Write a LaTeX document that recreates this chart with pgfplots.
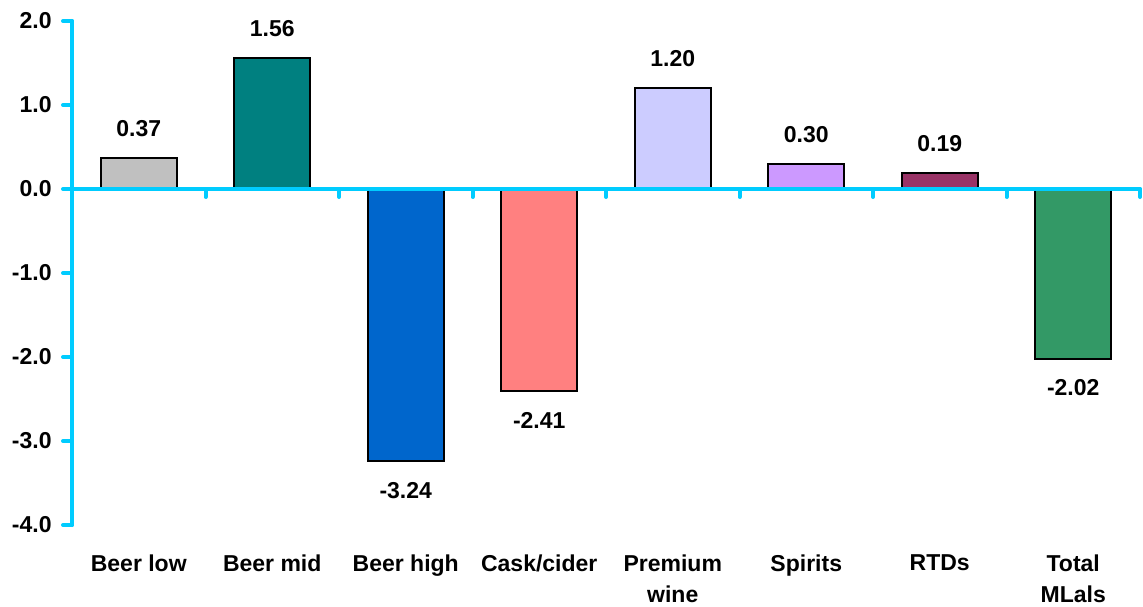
\documentclass[border=0pt]{standalone}
\usepackage{pgfplots}
\pgfplotsset{compat=1.18}
\usepackage{fontspec}
\setmainfont{Liberation Sans}
\definecolor{axcyan}{HTML}{00CCFF}
\definecolor{cA}{HTML}{C0C0C0}
\definecolor{cB}{HTML}{008080}
\definecolor{cC}{HTML}{0066CC}
\definecolor{cD}{HTML}{FF8080}
\definecolor{cE}{HTML}{CCCCFF}
\definecolor{cF}{HTML}{CC99FF}
\definecolor{cG}{HTML}{993366}
\definecolor{cH}{HTML}{339966}
\newcommand{\lblfont}{\fontsize{11.5}{15.5}\selectfont\bfseries}
\begin{document}
\begin{tikzpicture}
\begin{axis}[
  scale only axis, width=534pt, height=252pt,
  xmin=-0.5, xmax=7.5, ymin=-4, ymax=2,
  axis y line=left, axis x line=bottom,
  x axis line style={draw=none},
  y axis line style={-, axcyan, line width=2pt, line cap=round},
  ytick={-4,-3,-2,-1,0,1,2},
  yticklabels={-4.0,-3.0,-2.0,-1.0,0.0,1.0,2.0},
  yticklabel style={font=\lblfont, inner sep=0pt, xshift=-5.5pt},
  ytick style={axcyan, line width=2pt, line cap=round},
  tick align=outside, major tick length=4.5pt,
  xtick={0,...,7},
  xticklabels={Beer low, Beer mid, Beer high, Cask/cider, Premium\\wine, Spirits, RTDs, Total\\MLals},
  xticklabel style={font=\lblfont, align=center, inner sep=0pt, anchor=north, yshift=-10pt},
  xtick style={draw=none},
  ybar, bar width=38pt, bar shift=0pt,
  clip=false,
  point meta=explicit symbolic,
  nodes near coords,
  every node near coord/.append style={font=\lblfont, inner xsep=0pt, inner ysep=10pt},
]
\addplot[fill=cA, draw=black, line width=1pt] coordinates {(0,0.37) [0.37]};
\addplot[fill=cB, draw=black, line width=1pt] coordinates {(1,1.56) [1.56]};
\addplot[fill=cC, draw=black, line width=1pt, every node near coord/.append style={anchor=north}] coordinates {(2,-3.24) [-3.24]};
\addplot[fill=cD, draw=black, line width=1pt, every node near coord/.append style={anchor=north}] coordinates {(3,-2.41) [-2.41]};
\addplot[fill=cE, draw=black, line width=1pt] coordinates {(4,1.20) [1.20]};
\addplot[fill=cF, draw=black, line width=1pt] coordinates {(5,0.30) [0.30]};
\addplot[fill=cG, draw=black, line width=1pt] coordinates {(6,0.19) [0.19]};
\addplot[fill=cH, draw=black, line width=1pt, every node near coord/.append style={anchor=north}] coordinates {(7,-2.02) [-2.02]};
\draw[axcyan, line width=2pt, line cap=round] (axis cs:-0.5,0) -- (axis cs:7.5,0);
\draw[axcyan, line width=2pt, line cap=round] (axis cs:0.5,0) -- ++(0pt,-4pt);
\draw[axcyan, line width=2pt, line cap=round] (axis cs:1.5,0) -- ++(0pt,-4pt);
\draw[axcyan, line width=2pt, line cap=round] (axis cs:2.5,0) -- ++(0pt,-4pt);
\draw[axcyan, line width=2pt, line cap=round] (axis cs:3.5,0) -- ++(0pt,-4pt);
\draw[axcyan, line width=2pt, line cap=round] (axis cs:4.5,0) -- ++(0pt,-4pt);
\draw[axcyan, line width=2pt, line cap=round] (axis cs:5.5,0) -- ++(0pt,-4pt);
\draw[axcyan, line width=2pt, line cap=round] (axis cs:6.5,0) -- ++(0pt,-4pt);
\draw[axcyan, line width=2pt, line cap=round] (axis cs:7.5,0) -- ++(0pt,-4pt);
\end{axis}
\path ([xshift=-36pt,yshift=10.5pt]current axis.north west) rectangle ([xshift=1.5pt,yshift=-40.5pt]current axis.south east);
\end{tikzpicture}
\end{document}
